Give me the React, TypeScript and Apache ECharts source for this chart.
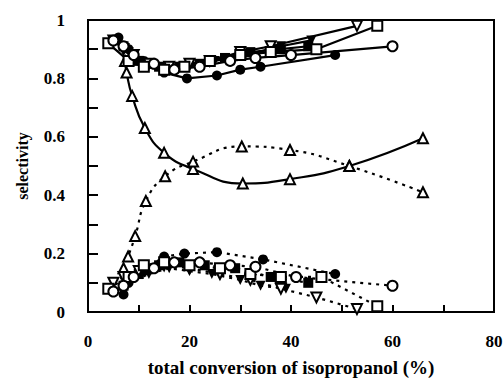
import React, { useEffect, useRef } from "react";
import * as echarts from "echarts";

const xTicks = { min: 0, max: 80, interval: 10 };
const yTicks = { min: 0, max: 1, interval: 0.1 };
const xTitle = "total conversion of isopropanol (%)";
const yTitle = "selectivity";

// upper group (solid lines)
const upOpenInvTri: number[][] = [[5, 0.93], [7, 0.9], [9, 0.88], [12, 0.85], [16, 0.84], [20, 0.85], [24, 0.86], [30, 0.89], [36, 0.91], [53, 0.98]];
const upOpenSquare: number[][] = [[4, 0.92], [8, 0.86], [11, 0.84], [15, 0.83], [19, 0.84], [24, 0.86], [30, 0.88], [36, 0.89], [45, 0.9], [57, 0.98]];
const upOpenCircle: number[][] = [[5, 0.93], [7, 0.91], [9, 0.88], [13, 0.85], [17, 0.83], [22, 0.84], [28, 0.86], [33, 0.87], [40, 0.88], [60, 0.91]];
const upFilledCircle: number[][] = [[6, 0.94], [8, 0.9], [11, 0.86], [15, 0.82], [19.5, 0.8], [25.4, 0.81], [30, 0.83], [34, 0.84], [48.7, 0.88]];
const upFilledSquare: number[][] = [[7, 0.91], [10, 0.86], [14, 0.84], [18, 0.84], [22, 0.85], [27, 0.87], [32, 0.89], [38, 0.9], [43.4, 0.91]];
const upFilledInvTri: number[][] = [[8, 0.89], [12, 0.85], [16, 0.83], [20, 0.84], [25, 0.86], [31, 0.88], [38, 0.91], [44, 0.93]];
const upOpenTri: number[][] = [[7.3, 0.86], [7.6, 0.82], [8.7, 0.74], [11.2, 0.63], [15, 0.545], [20.7, 0.49], [30.5, 0.44], [39.8, 0.455], [51.5, 0.5], [66, 0.595]];

// lower group (dashed lines)
const loOpenInvTri: number[][] = [[5, 0.1], [7, 0.12], [10, 0.14], [15, 0.16], [20, 0.15], [26, 0.13], [32, 0.11], [38, 0.08], [45, 0.05], [53, 0.01]];
const loOpenSquare: number[][] = [[4, 0.08], [8, 0.12], [11, 0.16], [15, 0.17], [20, 0.16], [26, 0.15], [32, 0.13], [38, 0.12], [46, 0.12], [57, 0.02]];
const loOpenCircle: number[][] = [[5, 0.07], [7, 0.09], [9, 0.12], [13, 0.15], [17, 0.17], [22, 0.17], [28, 0.16], [33, 0.155], [41, 0.12], [60, 0.09]];
const loFilledCircle: number[][] = [[7, 0.06], [8, 0.1], [11, 0.14], [15, 0.19], [19, 0.2], [25.4, 0.205], [34.5, 0.18], [48.7, 0.13]];
const loFilledSquare: number[][] = [[7, 0.09], [10, 0.13], [14, 0.16], [18, 0.17], [23, 0.16], [29, 0.15], [36, 0.12], [43.4, 0.1]];
const loFilledInvTri: number[][] = [[8, 0.1], [12, 0.13], [16, 0.15], [20, 0.14], [24.4, 0.13], [30, 0.11], [34, 0.09], [39, 0.08]];
const loOpenTri: number[][] = [[7, 0.15], [7.9, 0.19], [9.3, 0.26], [11.4, 0.38], [15.2, 0.465], [20.7, 0.515], [30.3, 0.567], [39.8, 0.555], [51.5, 0.5], [66, 0.41]];

const FONT = "Liberation Serif";

type Marker = "openSquare" | "openCircle" | "filledCircle" | "filledSquare" | "openInvTri" | "filledInvTri" | "openTri";

function mk(data: number[][], marker: Marker, dashed: boolean, smooth = false) {
  const open = marker.startsWith("open");
  const symbol = marker.endsWith("Square") ? "rect" : marker.endsWith("Circle") ? "circle" : "triangle";
  const rotate = marker.endsWith("InvTri") ? 180 : 0;
  return {
    type: "line",
    data,
    smooth: smooth ? 0.5 : false,
    symbol,
    symbolRotate: rotate,
    symbolSize: 10,
    showAllSymbol: true,
    lineStyle: { color: "#000", width: 2.2, type: dashed ? [3, 5] : "solid" },
    itemStyle: { color: open ? "#fff" : "#000", borderColor: "#000", borderWidth: open ? 2 : 0 },
    emphasis: { disabled: true },
    z: open ? 3 : 2,
  };
}

export default function App() {
  const ref = useRef<HTMLDivElement>(null);
  useEffect(() => {
    if (!ref.current) return;
    const chart = echarts.init(ref.current, undefined, { renderer: "svg" });
    const labelStyle = { fontFamily: FONT, fontWeight: "bold" as const, fontSize: 17, color: "#000" };
    chart.setOption({
      animation: false,
      backgroundColor: "#fff",
      grid: {
        left: 88, right: 9, top: 20, bottom: 67,
        show: true, borderColor: "#000", borderWidth: 2,
        containLabel: false, outerBoundsMode: "none",
      },
      xAxis: {
        type: "value",
        min: xTicks.min,
        max: xTicks.max,
        interval: xTicks.interval,
        name: xTitle,
        nameLocation: "middle",
        nameGap: 46,
        nameMoveOverlap: false,
        nameTextStyle: { ...labelStyle, fontSize: 19 },
        axisLine: { lineStyle: { color: "#000", width: 2 } },
        axisTick: { inside: true, length: 7, lineStyle: { color: "#000", width: 2 } },
        splitLine: { show: false },
        axisLabel: {
          ...labelStyle,
          margin: 21,
          formatter: (v: number) => (Math.round(v) % 20 === 0 ? String(Math.round(v)) : ""),
        },
      },
      yAxis: {
        type: "value",
        min: yTicks.min,
        max: yTicks.max,
        interval: yTicks.interval,
        name: yTitle,
        nameLocation: "middle",
        nameGap: 58,
        nameMoveOverlap: false,
        nameTextStyle: { ...labelStyle, fontSize: 16 },
        axisLine: { lineStyle: { color: "#000", width: 2 } },
        axisTick: { inside: true, length: 10, lineStyle: { color: "#000", width: 2 } },
        splitLine: { show: false },
        axisLabel: {
          ...labelStyle,
          margin: 23,
          formatter: (v: number) => {
            const r = Math.round(v * 10);
            if (r % 2 !== 0) return "";
            if (r === 0) return "0";
            if (r === 10) return "1";
            return (r / 10).toFixed(1);
          },
        },
      },
      series: [
        mk(upOpenTri, "openTri", false, true),
        mk(loOpenTri, "openTri", true, true),
        mk(upFilledCircle, "filledCircle", false),
        mk(upFilledSquare, "filledSquare", false),
        mk(upFilledInvTri, "filledInvTri", false),
        mk(upOpenInvTri, "openInvTri", false),
        mk(upOpenSquare, "openSquare", false),
        mk(upOpenCircle, "openCircle", false),
        mk(loFilledCircle, "filledCircle", true),
        mk(loFilledSquare, "filledSquare", true),
        mk(loFilledInvTri, "filledInvTri", true),
        mk(loOpenInvTri, "openInvTri", true),
        mk(loOpenSquare, "openSquare", true),
        mk(loOpenCircle, "openCircle", true),
      ],
    });
    return () => chart.dispose();
  }, []);
  return <div ref={ref} style={{ width: 503, height: 379, position: "absolute", left: 0, top: 0 }} />;
}
